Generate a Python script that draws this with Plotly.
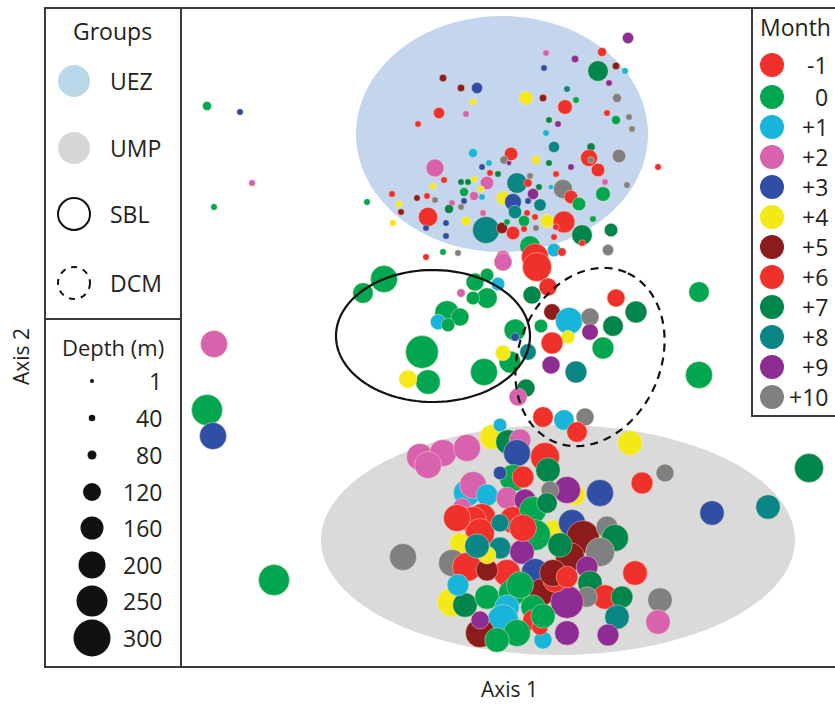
import numpy as np
import plotly.graph_objects as go

W, H = 835, 704

# ---------------- data ----------------
month_labels = ["-1", "0", "+1", "+2", "+3", "+4", "+5", "+6", "+7", "+8", "+9", "+10"]
month_values = [-1, 0, 1, 2, 3, 4, 5, 6, 7, 8, 9, 10]
month_colors = ["#f0302a", "#00a650", "#16b5d9", "#d862ad", "#2f4fa5", "#f3e916",
                "#8c1b1b", "#f0302a", "#00864a", "#0b8686", "#8e2c94", "#808080"]

depth_ticks = [1, 40, 80, 120, 160, 200, 250, 300]
depth_px = [4, 6.5, 9, 18, 23, 27, 31, 37]

group_names = ["UEZ", "UMP", "SBL", "DCM"]
ell_cx = [-0.06, 0.50, -0.75, 0.82]
ell_cy = [2.04, -2.02, 0.02, -0.19]
ell_a = [1.46, 2.37, 0.97, 0.92]
ell_b = [1.18, 1.15, 0.66, 0.71]
ell_ang = [0, 0, 0, 67]

axis1 = [
    1.20, 0.94, 0.38, 0.67, 0.36, 0.90, 1.08, 1.17, 1.01, -0.65, -0.47, -0.31, 0.59, 0.18, 0.35, 0.68,
    0.57, -0.35, 1.09, -0.69, -0.42, -0.90, 0.99, 1.08, 1.21, 1.24, 0.41, 0.50, 0.38, -0.35, 0.46, 0.83,
    0.81, 0.83, 0.90, 1.11, 0.03, -0.04, 0.01, 0.28, 0.41, 0.63, 1.50, -0.73, -0.64, -0.26, -0.19, -0.18,
    -0.10, 0.97, 1.19, -0.75, -0.47, -0.40, -0.34, -0.21, 0.09, 0.20, 0.22, -0.44, -0.27, 0.31, 0.25, 0.55,
    0.63, 0.71, 0.95, 0.43, 0.48, -0.34, -0.26, -0.44, -0.81, -0.91, -0.73, -0.56, -0.59, -0.47, -0.05, 0.05,
    0.07, 0.32, 0.20, 0.19, 0.16, 0.27, -0.25, -0.80, -0.42, -0.62, -0.62, -0.82, 0.39, 0.56, 0.85, 0.74,
    0.48, -0.22, -0.06, 0.05, -0.01, 0.16, 0.28, 1.03, 0.46, 1.00, 0.22, 0.27, 0.46, 0.54, -0.05, -0.65,
    -0.50, -0.82, -1.16, -1.15, -1.09, -1.07, -1.41, 0.74, -0.05, 0.29, 0.40,
    -1.24, -1.45, -0.33, -0.21, -0.21, -0.35, -0.10, -0.47, -0.61, -0.48, -0.70, -0.60, -0.86, -0.80, -1.00, -0.24,
    0.07, 0.07, 0.02, -0.05, 0.20, 0.24,
    0.44, 0.61, 0.82, 0.82, 1.08, 1.28, 1.05, 0.95, 0.33, 0.60, 0.44, 0.43, 0.68, 0.18, 0.10, 0.35,
    0.56, 0.77, 0.69,
    1.91, 1.91, 3.01, 1.57, 1.34, 2.04, 2.60, 1.22,
    -3.01, -2.68, -2.56, -2.94, -2.94, -3.01, -2.95, -2.34,
    -0.88, -0.65, -0.41, -0.80, -0.16, -0.08, 0.00, 0.12, 0.09, 0.37, 0.40, 0.05, -0.08, 0.92, 0.67, 0.59,
    0.42, -0.41, -0.35, -0.21, -0.01, 0.17, -0.46, -0.26, -0.35, -0.28, 0.05, 0.15, 0.25, 0.39, -0.08, 0.09,
    0.45, 0.27, 0.64, 0.75, 0.99, 1.07, 0.92, 0.62, 0.79, -0.48, -0.08, 0.14, -1.05, -0.56, -0.41, -0.01,
    0.27, -0.21, -0.21, 1.27, 0.34, 0.82, 0.97, 1.14, 0.79, 0.59, -0.56, -0.43, -0.21, 0.04, -0.01, -0.05,
    0.25, 0.25, 1.09, 1.52, 1.50, 0.59, 1.00, -0.28, -0.28, 0.09, 0.35, 0.32, -0.11,
    0.15, -0.50, 0.12, 0.47, 0.52, 0.45, 0.59, -0.51, -0.31, 0.35,
]
axis2 = [
    3.00, 2.86, 2.85, 2.79, 2.70, 2.67, 2.72, 2.67, 2.55, 2.60, 2.50, 2.50, 2.49, 2.40, 2.40, 2.38,
    2.31, 2.36, 2.40, 2.25, 2.24, 2.14, 2.25, 2.18, 2.21, 2.09, 2.18, 2.14, 2.05, 1.85, 1.91, 1.91,
    1.80, 1.78, 1.68, 1.82, 1.84, 1.78, 1.75, 1.78, 1.75, 1.71, 1.71, 1.70, 1.58, 1.71, 1.75, 1.65,
    1.64, 1.56, 1.53, 1.52, 1.56, 1.56, 1.59, 1.55, 1.55, 1.55, 1.62, 1.46, 1.49, 1.51, 1.44, 1.49,
    1.41, 1.34, 1.44, 1.51, 1.64, 1.42, 1.41, 1.37, 1.42, 1.40, 1.38, 1.35, 1.29, 1.31, 1.40, 1.36,
    1.26, 1.33, 1.37, 1.25, 1.17, 1.21, 1.25, 1.21, 1.17, 1.15, 1.02, 1.10, 1.17, 1.16, 1.19, 1.03,
    1.11, 1.08, 1.10, 1.05, 1.16, 1.09, 1.10, 1.08, 1.01, 0.88, 0.92, 0.81, 0.88, 0.86, 0.81, 0.86,
    0.85, 0.81, 1.44, 1.15, 1.34, 1.26, 1.36, 0.95, 0.76, 0.71, 0.51,
    0.59, 0.45, 0.56, 0.63, 0.40, 0.40, 0.54, 0.45, 0.25, 0.21, 0.16, 0.13, -0.14, -0.44, -0.41, -0.34,
    0.08, 0.01, -0.24, -0.15, -0.14, 0.43,
    0.26, 0.17, 0.21, 0.06, 0.40, 0.26, 0.12, -0.10, 0.12, 0.01, -0.05, -0.27, -0.34, -0.50, -0.59, -0.79,
    -0.82, -0.79, -0.94,
    0.46, -0.37, -1.30, -1.35, -1.45, -1.75, -1.69, -1.05,
    2.32, 2.26, 1.55, 1.31, -0.06, -0.72, -0.98, -2.42,
    -1.19, -1.15, -1.10, -1.27, -0.99, -0.87, -1.04, -1.02, -1.15, -1.19, -1.32, -1.40, -1.35, -1.55, -1.57, -1.52,
    -1.52, -1.55, -1.47, -1.57, -1.60, -1.62, -1.69, -1.79, -1.82, -1.95, -1.82, -1.39, -1.72, -1.65, -1.85, -1.89,
    -1.92, -1.97, -1.85, -1.99, -1.89, -2.00, -2.14, -2.19, -2.29, -2.05, -2.10, -2.14, -2.19, -2.25, -2.29, -2.35,
    -2.34, -2.32, -2.17, -2.35, -2.54, -2.45, -2.59, -2.59, -2.59, -2.64, -2.64, -2.67, -2.59, -2.55, -2.69, -2.82,
    -2.69, -2.82, -2.79, -2.62, -2.84, -2.95, -2.97, -2.95, -2.82, -2.95, -3.02, -2.89, -3.02,
    -1.90, -2.47, -2.47, -2.42, -2.07, -2.35, -2.39, -1.80, -2.08, -2.78,
]
month = [
    9, -1, 2, 9, 3, 7, 5, 1, 9, 5, 5, 3, 8, 4, 5, 0,
    6, 4, 10, -1, 2, 6, 6, 0, 10, 10, 7, 9, 1, 1, 8, 7,
    -1, 10, 6, 10, -1, 10, 9, 4, 7, 9, 6, 2, -1, 3, 1, 6,
    7, 2, 10, 4, 7, 7, 4, 2, 8, -1, 10, 0, 4, 7, 9, 10,
    6, 0, 0, 1, -1, 2, 1, 3, 6, 5, 10, 2, 7, 10, 4, 3,
    8, 8, 3, 6, 0, -1, 2, -1, 4, 3, 3, 3, 4, 6, 0, 7,
    -1, 8, 5, 6, 0, -1, 10, 7, 6, 10, 0, -1, 1, 6, 2, 0,
    10, -1, 6, 4, 4, 5, 0, 6, 2, -1, 6,
    0, 0, 0, 0, 0, 0, 1, 2, 0, 0, 1, 0, 0, 0, 4, 0,
    0, 3, 0, 4, 8, 7,
    5, 1, 10, 9, 6, 7, 7, 0, 0, 4, -1, 9, 8, 7, 2, 6,
    1, 10, -1,
    0, 0, 7, 10, 6, 3, 8, 4,
    0, 3, 2, 0, 2, 0, 3, 0,
    2, 2, 2, 2, 4, 1, 7, 2, 3, 6, 7, 0, 3, 3, 4, 9,
    10, 1, 2, 1, 2, 9, 2, -1, -1, 6, -1, 6, 0, 7, 8, 8,
    4, 0, 3, 5, 10, 7, 10, 5, 9, 4, 8, 9, 10, 10, -1, 6,
    3, 5, 4, 6, 5, 7, -1, 7, 10, 9, 4, 7, 0, 0, 1, 1,
    0, 6, 8, 10, 2, 9, 9, 5, 9, 0, 1, -1, 0,
    6, 1, 0, 6, 7, 5, -1, 6, 8, 0,
]
depth = [
    90, 80, 40, 55, 40, 140, 55, 40, 40, 55, 55, 90, 40, 100, 55, 40,
    105, 40, 80, 90, 40, 40, 40, 80, 40, 40, 40, 40, 40, 80, 90, 70,
    115, 40, 100, 100, 100, 70, 20, 70, 40, 40, 40, 120, 40, 40, 40, 40,
    40, 40, 40, 40, 40, 40, 40, 100, 140, 70, 40, 80, 40, 40, 90, 130,
    100, 100, 105, 20, 40, 80, 40, 40, 40, 40, 40, 40, 80, 40, 100, 115,
    100, 95, 40, 40, 90, 40, 40, 130, 80, 40, 40, 40, 100, 150, 40, 140,
    40, 200, 90, 100, 40, 40, 40, 100, 40, 90, 140, 200, 100, 70, 100, 40,
    40, 40, 40, 40, 40, 40, 40, 40, 120, 225, 120,
    200, 140, 120, 100, 140, 100, 100, 70, 175, 120, 108, 100, 265, 175, 120, 200,
    150, 70, 150, 108, 113, 120,
    113, 200, 120, 113, 120, 150, 140, 150, 100, 100, 150, 120, 150, 120, 120, 140,
    140, 120, 140,
    140, 200, 225, 120, 150, 175, 175, 175,
    80, 40, 40, 40, 200, 250, 200, 250,
    200, 200, 200, 200, 175, 100, 175, 150, 200, 225, 175, 200, 100, 200, 140, 200,
    120, 200, 200, 150, 150, 150, 120, 200, 200, 225, 200, 150, 200, 140, 120, 120,
    140, 250, 200, 265, 150, 200, 225, 225, 150, 140, 150, 175, 200, 200, 225, 200,
    200, 150, 120, 175, 200, 175, 175, 150, 140, 265, 225, 175, 175, 200, 175, 250,
    175, 140, 175, 175, 175, 175, 150, 225, 120, 200, 120, 113, 175,
    200, 150, 200, 175, 175, 200, 150, 200, 175, 175,
]

# ---------------- helpers ----------------
def px2x(p):
    return p / W


def py2y(p):
    return 1 - p / H


color_of = dict(zip(month_values, month_colors))
point_colors = [color_of[m] for m in month]
point_sizes = np.interp(depth, depth_ticks, depth_px)


def ellipse_path(cx, cy, a, b, ang):
    t = np.linspace(0, 2 * np.pi, 120)
    th = np.deg2rad(ang)
    xs = cx + a * np.cos(t) * np.cos(th) - b * np.sin(t) * np.sin(th)
    ys = cy + a * np.cos(t) * np.sin(th) + b * np.sin(t) * np.cos(th)
    return "M " + " L ".join(f"{x:.4f},{y:.4f}" for x, y in zip(xs, ys)) + " Z"


fig = go.Figure()
fig.add_trace(go.Scatter(
    x=axis1, y=axis2, mode="markers",
    marker=dict(size=point_sizes, color=point_colors, opacity=1,
                line=dict(width=0.8, color="rgba(255,235,200,0.55)")),
    hoverinfo="skip", showlegend=False,
))

shapes = []
fills = ["#c3d6ed", "#dadada", None, None]
for i, g in enumerate(group_names):
    p = ellipse_path(ell_cx[i], ell_cy[i], ell_a[i], ell_b[i], ell_ang[i])
    if fills[i]:
        shapes.append(dict(type="path", path=p, xref="x", yref="y", layer="below",
                           fillcolor=fills[i], line=dict(width=0)))
    else:
        shapes.append(dict(type="path", path=p, xref="x", yref="y", layer="above",
                           line=dict(color="#111111", width=2.2,
                                     dash="solid" if g == "SBL" else "8px,6px")))

FRAME = "#3a3a3a"


def line(x0, y0, x1, y1, w=2):
    shapes.append(dict(type="line", xref="paper", yref="paper", layer="above",
                       x0=px2x(x0), y0=py2y(y0), x1=px2x(x1), y1=py2y(y1),
                       line=dict(color=FRAME, width=w)))


def circle(cx, cy, d, fill=None, lc=None, lw=0, dash="solid"):
    r = d / 2
    shapes.append(dict(type="circle", xref="paper", yref="paper", layer="above",
                       xsizemode="pixel", ysizemode="pixel",
                       xanchor=px2x(cx), yanchor=py2y(cy),
                       x0=-r, x1=r, y0=-r, y1=r,
                       fillcolor=fill if fill else "rgba(0,0,0,0)",
                       line=dict(color=lc if lc else "rgba(0,0,0,0)", width=lw, dash=dash)))


shapes.append(dict(type="rect", xref="paper", yref="paper", layer="above",
                   x0=px2x(752), x1=px2x(845), y0=py2y(416), y1=py2y(8),
                   fillcolor="white", line=dict(color=FRAME, width=2)))
shapes.append(dict(type="rect", xref="paper", yref="paper", layer="above",
                   x0=px2x(45), x1=px2x(845), y0=py2y(667), y1=py2y(8),
                   fillcolor="rgba(0,0,0,0)", line=dict(color=FRAME, width=2)))
line(181, 8, 181, 667)
line(45, 319, 181, 319)

annotations = []
FONT = "Open Sans, Noto Sans, sans-serif"
TXT = "#231f20"


def text(s, x, y, size=23, xanchor="center", angle=0):
    annotations.append(dict(text=s, x=px2x(x), y=py2y(y), xref="paper", yref="paper",
                            showarrow=False, xanchor=xanchor, yanchor="middle",
                            textangle=angle, font=dict(family=FONT, size=size, color=TXT)))


text("Groups", 112, 31)
group_y = [81, 148, 214, 283]
group_fill = ["#b9d9ea", "#d6d6d6", None, None]
for i, g in enumerate(group_names):
    if group_fill[i]:
        circle(74, group_y[i], 32, fill=group_fill[i])
    else:
        circle(74, group_y[i], 32, lc="#111111", lw=2,
               dash="solid" if g == "SBL" else "6px,6px")
    text(g, 108, group_y[i], xanchor="left")

text("Depth (m)", 113, 347, size=22)
depth_y = [381, 418, 455, 492, 528, 565, 601, 638]
for i, d in enumerate(depth_ticks):
    circle(92, depth_y[i], depth_px[i], fill="#111111")
    text(str(d), 164, depth_y[i], xanchor="right")

text("Month", 795, 27)
month_y = [65, 97, 127, 157, 187, 217, 247, 277, 307, 337, 367, 397]
for i, lab in enumerate(month_labels):
    circle(772, month_y[i], 24, fill=month_colors[i])
    text(lab, 830, month_y[i], xanchor="right")

text("Axis 1", 509, 689, size=21)
text("Axis 2", 21, 357, size=21, angle=-90)

fig.update_layout(
    width=W, height=H,
    margin=dict(l=0, r=0, t=0, b=0),
    paper_bgcolor="white", plot_bgcolor="white",
    xaxis=dict(domain=[181 / W, 1], range=[-3.27, 3.27], visible=False, fixedrange=True),
    yaxis=dict(domain=[1 - 667 / H, 1 - 8 / H], range=[-3.29, 3.30], visible=False, fixedrange=True),
    shapes=shapes, annotations=annotations,
    showlegend=False,
)

fig.write_html("out.html", config={"displayModeBar": False},
               post_script="document.body.style.margin='0';document.body.style.overflow='hidden';")
